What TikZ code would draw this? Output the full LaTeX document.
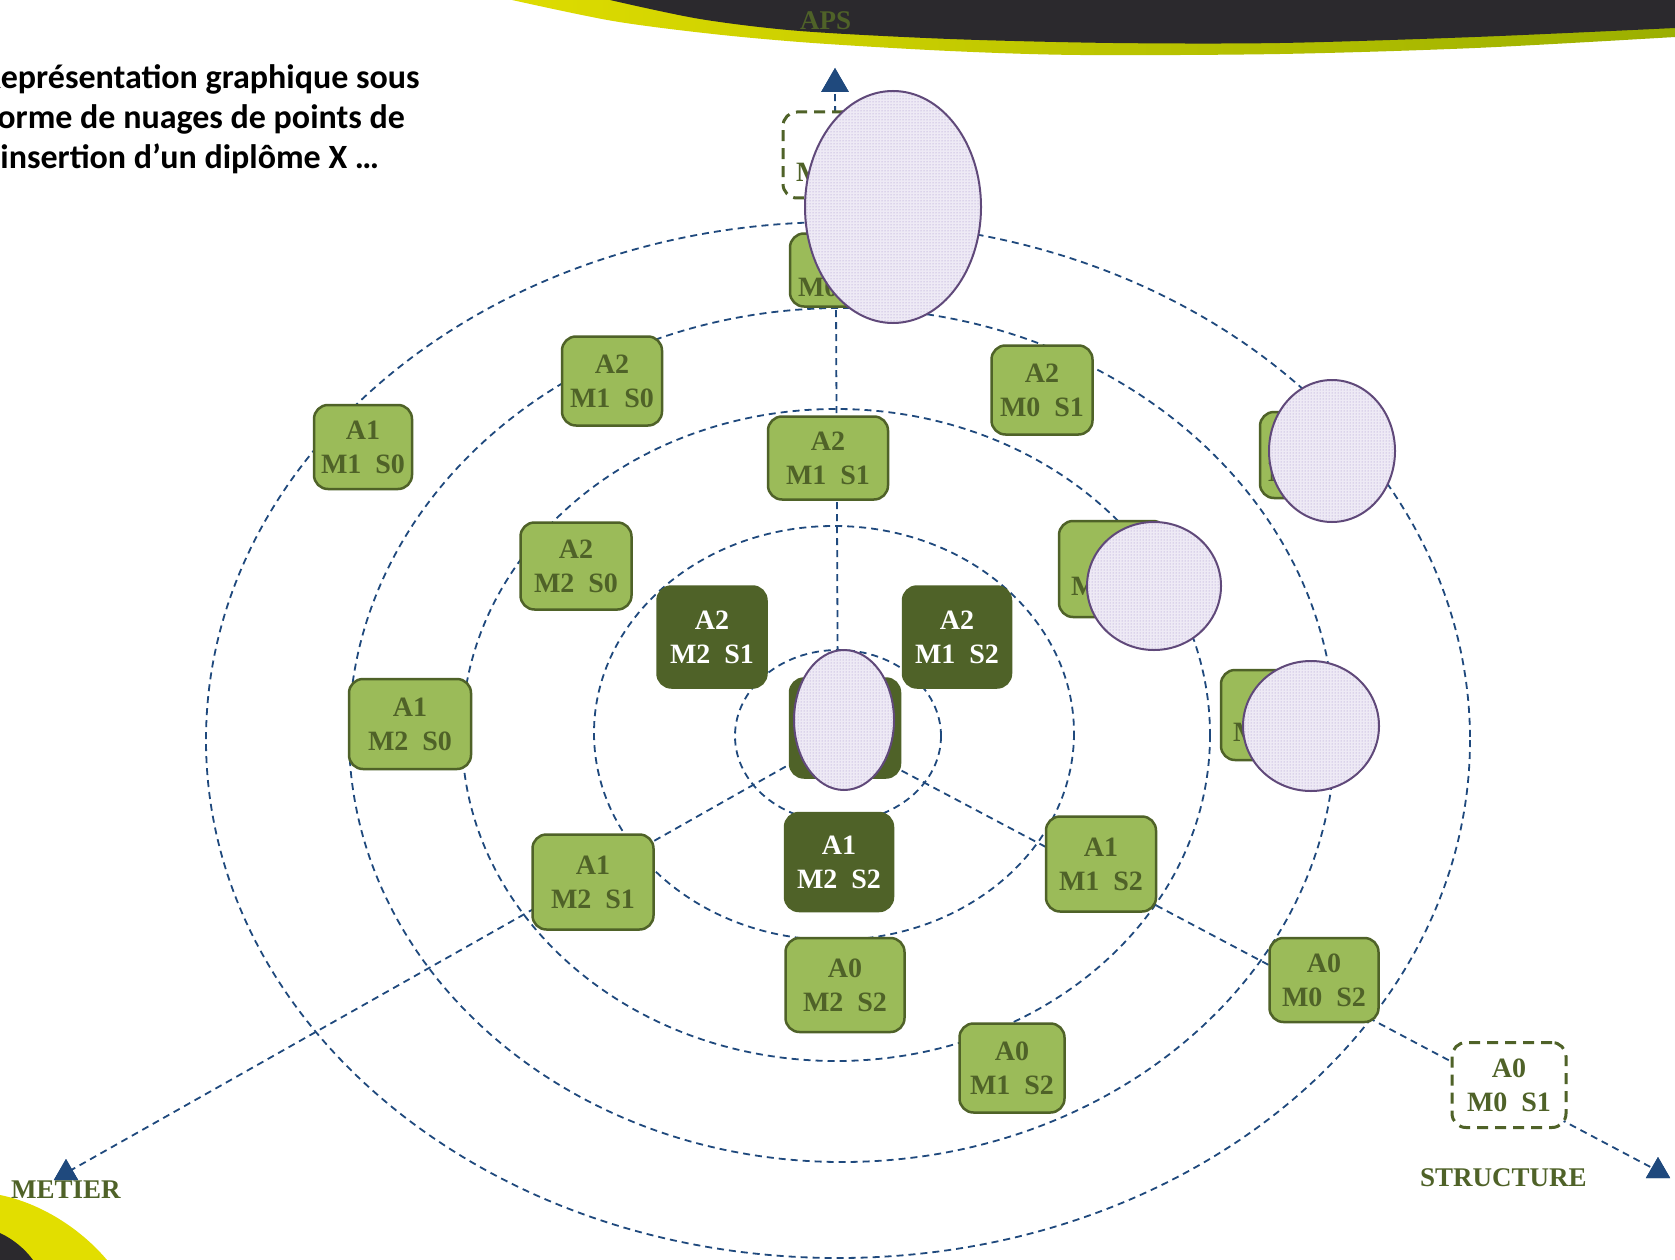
\documentclass[tikz,border=0pt]{standalone}
\usepackage{fontspec}
\setmainfont{Liberation Serif}
\newfontfamily\titlefont{Carlito}
\usetikzlibrary{shapes.geometric,patterns}
\definecolor{boxgreen}{RGB}{155,187,89}
\definecolor{darkolive}{RGB}{79,98,40}
\definecolor{axisblue}{RGB}{31,73,125}
\definecolor{cloudline}{RGB}{96,73,122}
\definecolor{cloudbg}{RGB}{238,234,245}
\definecolor{clouddot}{RGB}{160,138,200}
\definecolor{bannerdark}{RGB}{43,41,45}
\definecolor{bannerYL}{RGB}{222,220,0}
\definecolor{bannerYR}{RGB}{155,175,0}
\definecolor{cornerY}{RGB}{226,222,0}
\newcommand\gp{\hspace{.5em}}
\begin{document}
\begin{tikzpicture}[x=1pt,y=-1pt,
  ring/.style={draw=axisblue, line width=1.8pt, dash pattern=on 7pt off 5pt},
  axisline/.style={draw=axisblue, line width=1.8pt, dash pattern=on 7pt off 5pt},
  tri/.style={regular polygon, regular polygon sides=3, fill=axisblue, inner sep=0pt},
  gbox/.style={draw=darkolive, fill=boxgreen, line width=2.5pt, rounded corners=14pt,
     text=darkolive, align=center, inner sep=0pt,
     font=\fontsize{28}{34}\selectfont\bfseries},
  dbox/.style={gbox, fill=darkolive, text=white},
  dashbox/.style={gbox, fill=white, line width=3pt, dash pattern=on 11pt off 7pt},
  cloud/.style={ellipse, draw=cloudline, preaction={fill=cloudbg}, pattern=dots, pattern color=clouddot, line width=2pt, inner sep=0pt},
  lab/.style={anchor=base west, text=darkolive, font=\fontsize{27}{32}\selectfont\bfseries, inner sep=0pt},
  ttl/.style={anchor=base west, text=black, font=\titlefont\fontsize{34}{40}\selectfont\bfseries, inner sep=0pt}
]
\useasboundingbox (0,0) rectangle (1675,1260);
\clip (0,0) rectangle (1675,1260);
\fill[white] (0,0) rectangle (1675,1260);

% banner top
\shade[left color=bannerYL, right color=bannerYR]
  plot[smooth] coordinates {(512,0) (613,21) (713,34) (813,43) (950,51) (1080,55) (1280,54) (1475,48) (1675,37)}
  -- (1675,0) -- cycle;
\fill[bannerdark]
  plot[smooth] coordinates {(610,0) (700,19) (800,31) (950,39) (1113,43) (1280,43) (1475,37) (1675,28)}
  -- (1675,0) -- cycle;
% corner bottom left
\fill[cornerY] (0,1195) .. controls (40,1203) and (80,1228) .. (107,1260) -- (0,1260) -- cycle;
\fill[bannerdark] (0,1233) .. controls (13,1239) and (25,1249) .. (33,1260) -- (0,1260) -- cycle;

% title (cut at the left edge as in the reference)
\node[ttl] (t1) at (-18,89) {Représentation graphique sous};
\node[ttl] (t2) at (-13,129) {forme de nuages de points de};
\node[ttl] (t3) at (-17,169) {l’insertion d’un diplôme X …};

% rings
\draw[ring] (838,736) ellipse [x radius=103, y radius=86];
\draw[ring] (834,733) ellipse [x radius=240, y radius=207];
\draw[ring] (836,735) ellipse [x radius=374, y radius=326];
\draw[ring] (842,735) ellipse [x radius=493, y radius=427];
\draw[ring] (838,740) ellipse [x radius=632, y radius=518];

% axes
\coordinate (C) at (838,737);
\node[tri, minimum size=32pt] (apsT) at (835,84) {};
\node[tri, minimum size=28pt] (metT) at (66,1173) {};
\node[tri, minimum size=28pt] (strT) at (1658,1171) {};
\draw[axisline] (C) -- (apsT.center);
\draw[axisline] (C) -- (metT.center);
\draw[axisline] (C) -- (strT.center);
\node[tri, minimum size=32pt] at (apsT.center) {};
\node[tri, minimum size=28pt] at (metT.center) {};
\node[tri, minimum size=28pt] at (strT.center) {};

% boxes
\node[dashbox, minimum width=110pt, minimum height=86pt] (n17) at (838,155) {A1\\M0\gp S0};
\node[gbox, minimum width=100pt, minimum height=73pt] (n18) at (840,270) {A2\\M0\gp S0};
\node[gbox, minimum width=100pt, minimum height=89pt] (n1) at (612,381) {A2\\M1\gp S0};
\node[gbox, minimum width=98pt, minimum height=84pt] (n2) at (363,447) {A1\\M1\gp S0};
\node[gbox, minimum width=101pt, minimum height=89pt] (n3) at (1042,390) {A2\\M0\gp S1};
\node[gbox, minimum width=120pt, minimum height=83pt] (n4) at (828,458) {A2\\M1\gp S1};
\node[gbox, minimum width=111pt, minimum height=87pt] (n5) at (576,566) {A2\\M2\gp S0};
\node[dbox, minimum width=109pt, minimum height=101pt] (n6) at (712,637) {A2\\M2\gp S1};
\node[dbox, minimum width=108pt, minimum height=101pt] (n7) at (957,637) {A2\\M1\gp S2};
\node[dbox, minimum width=110pt, minimum height=99pt] (n8) at (845,728) {A2\\M2\gp S2};
\node[gbox, minimum width=122pt, minimum height=90pt] (n9) at (410,724) {A1\\M2\gp S0};
\node[gbox, minimum width=121pt, minimum height=95pt] (n10) at (593,882) {A1\\M2\gp S1};
\node[dbox, minimum width=108pt, minimum height=98pt] (n11) at (839,862) {A1\\M2\gp S2};
\node[gbox, minimum width=110pt, minimum height=95pt] (n12) at (1101,864) {A1\\M1\gp S2};
\node[gbox, minimum width=119pt, minimum height=94pt] (n13) at (845,985) {A0\\M2\gp S2};
\node[gbox, minimum width=105pt, minimum height=89pt] (n14) at (1012,1068) {A0\\M1\gp S2};
\node[gbox, minimum width=109pt, minimum height=84pt] (n15) at (1324,980) {A0\\M0\gp S2};
\node[dashbox, minimum width=114pt, minimum height=85pt] (n16) at (1509,1085) {A0\\M0\gp S1};
\node[gbox, minimum width=100pt, minimum height=86pt] (n19) at (1310,455) {A1\\M0\gp S1};
\node[gbox, minimum width=108pt, minimum height=96pt] (n20) at (1113,569) {A1\\M1\gp S1};
\node[gbox, minimum width=108pt, minimum height=90pt] (n21) at (1275,715) {A2\\M0\gp S2};

% clouds
\node[cloud, minimum width=176pt, minimum height=232pt] (e1) at (893,207) {};
\node[cloud, minimum width=126pt, minimum height=142pt] (e2) at (1332,451) {};
\node[cloud, minimum width=134pt, minimum height=128pt] (e3) at (1154,586) {};
\node[cloud, minimum width=136pt, minimum height=130pt] (e4) at (1311,726) {};
\node[cloud, minimum width=100pt, minimum height=140pt] (e5) at (844,720) {};

% axis labels
\node[lab] (aps) at (800,30) {APS};
\node[lab] (metier) at (11,1198) {METIER};
\node[lab] (structure) at (1420,1186) {STRUCTURE};
\end{tikzpicture}
\end{document}
